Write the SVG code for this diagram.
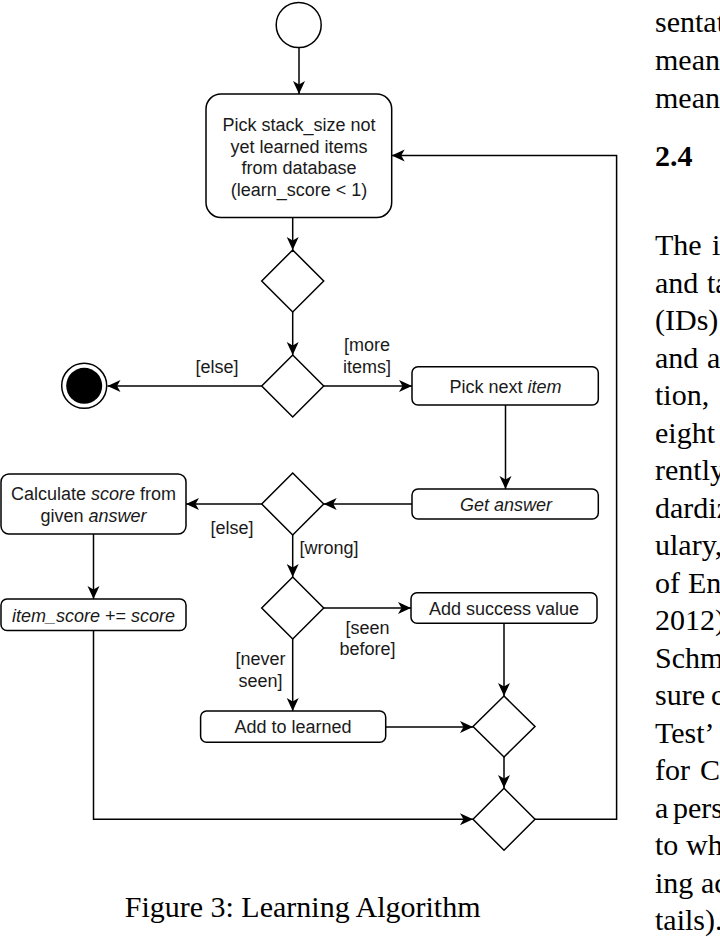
<svg xmlns="http://www.w3.org/2000/svg" width="720" height="937" viewBox="0 0 720 937">
<style>
.bx{fill:#fff;stroke:#000;stroke-width:1.5}
.dm{fill:#fff;stroke:#000;stroke-width:1.5}
.ln{fill:none;stroke:#000;stroke-width:1.5}
.t{font-family:"Liberation Sans",Arial,sans-serif;font-size:18px;fill:#1a1a1a;text-anchor:middle}
.i{font-style:italic}
.p{font-family:"Liberation Serif","Times New Roman",serif;font-size:30px;fill:#000}
.cap{font-family:"Liberation Serif","Times New Roman",serif;font-size:30px;fill:#000;text-anchor:middle}
</style>
<defs>
<marker id="ar" markerUnits="userSpaceOnUse" markerWidth="14" markerHeight="13" refX="13" refY="6" orient="auto">
<path d="M0,0 L13,6 L0,12 L3.5,6 Z" fill="#000"/>
</marker>
</defs>
<rect width="720" height="937" fill="#fff"/>

<g id="connectors">
<line class="ln" x1="299" y1="47.5" x2="299" y2="94" marker-end="url(#ar)"/>
<line class="ln" x1="292.7" y1="217.5" x2="292.7" y2="250" marker-end="url(#ar)"/>
<line class="ln" x1="292.7" y1="312" x2="292.7" y2="355" marker-end="url(#ar)"/>
<line class="ln" x1="261.7" y1="386" x2="107.5" y2="386" marker-end="url(#ar)"/>
<line class="ln" x1="323.7" y1="386" x2="412" y2="386" marker-end="url(#ar)"/>
<line class="ln" x1="505.5" y1="405" x2="505.5" y2="489" marker-end="url(#ar)"/>
<line class="ln" x1="412" y1="504" x2="323.7" y2="504" marker-end="url(#ar)"/>
<line class="ln" x1="261.7" y1="504" x2="186" y2="504" marker-end="url(#ar)"/>
<line class="ln" x1="292.7" y1="535" x2="292.7" y2="577" marker-end="url(#ar)"/>
<line class="ln" x1="323.7" y1="608" x2="411" y2="608" marker-end="url(#ar)"/>
<line class="ln" x1="292.7" y1="639" x2="292.7" y2="711" marker-end="url(#ar)"/>
<line class="ln" x1="93.5" y1="534" x2="93.5" y2="599" marker-end="url(#ar)"/>
<line class="ln" x1="504" y1="623.3" x2="504" y2="696" marker-end="url(#ar)"/>
<line class="ln" x1="385.7" y1="727" x2="473" y2="727" marker-end="url(#ar)"/>
<line class="ln" x1="504" y1="757" x2="504" y2="788" marker-end="url(#ar)"/>
<polyline class="ln" points="93.5,631 93.5,819.3 473,819.3" marker-end="url(#ar)"/>
<polyline class="ln" points="535,819.3 616.6,819.3 616.6,155.5 391.7,155.5" marker-end="url(#ar)"/>
</g>

<g id="start">
<circle cx="298.7" cy="25" r="22.5" fill="#fff" stroke="#000" stroke-width="1.5"/>
</g>

<g id="pick-stack">
<rect class="bx" x="206" y="94" width="185.7" height="123.5" rx="15" ry="15"/>
<text class="t" x="299" y="131">Pick stack_size not</text>
<text class="t" x="299" y="152.5">yet learned items</text>
<text class="t" x="299" y="174">from database</text>
<text class="t" x="299" y="195.5">(learn_score &lt; 1)</text>
</g>

<g id="decision1"><polygon class="dm" points="292.7,250 323.7,281 292.7,312 261.7,281"/></g>
<g id="decision2"><polygon class="dm" points="292.7,355 323.7,386 292.7,417 261.7,386"/></g>

<g id="end">
<circle cx="84.2" cy="385.8" r="22.5" fill="#fff" stroke="#000" stroke-width="1.5"/>
<circle cx="84.2" cy="385.8" r="18" fill="#000"/>
</g>

<g id="label-else-1"><text class="t" x="217" y="372.5">[else]</text></g>
<g id="label-more-items">
<text class="t" x="367" y="351">[more</text>
<text class="t" x="367" y="372.5">items]</text>
</g>

<g id="pick-next">
<rect class="bx" x="412" y="366.7" width="186.3" height="38.3" rx="6" ry="6"/>
<text class="t" x="505.5" y="392.5">Pick next <tspan class="i">item</tspan></text>
</g>

<g id="get-answer">
<rect class="bx" x="412" y="489" width="186.3" height="30" rx="6" ry="6"/>
<text class="t i" x="506" y="510.5">Get answer</text>
</g>

<g id="decision3"><polygon class="dm" points="292.7,473 323.7,504 292.7,535 261.7,504"/></g>

<g id="calculate">
<rect class="bx" x="1" y="474" width="185" height="60" rx="8" ry="8"/>
<text class="t" x="93.5" y="500">Calculate <tspan class="i">score</tspan> from</text>
<text class="t" x="93.5" y="521.5">given <tspan class="i">answer</tspan></text>
</g>

<g id="label-else-2"><text class="t" x="232" y="534">[else]</text></g>
<g id="label-wrong"><text class="t" x="329" y="554">[wrong]</text></g>

<g id="decision4"><polygon class="dm" points="292.7,577 323.7,608 292.7,639 261.7,608"/></g>

<g id="item-score">
<rect class="bx" x="1" y="599" width="185" height="31.5" rx="6" ry="6"/>
<text class="t" x="93.5" y="621.5"><tspan class="i">item_score</tspan> += <tspan class="i">score</tspan></text>
</g>

<g id="add-success">
<rect class="bx" x="411" y="592.7" width="186" height="30.6" rx="6" ry="6"/>
<text class="t" x="504" y="614.5">Add success value</text>
</g>

<g id="label-seen-before">
<text class="t" x="367.5" y="633.5">[seen</text>
<text class="t" x="367.5" y="655">before]</text>
</g>
<g id="label-never-seen">
<text class="t" x="260.5" y="665">[never</text>
<text class="t" x="260.5" y="686.5">seen]</text>
</g>

<g id="add-learned">
<rect class="bx" x="200.6" y="711" width="185.1" height="31.3" rx="6" ry="6"/>
<text class="t" x="293" y="733">Add to learned</text>
</g>

<g id="decision5"><polygon class="dm" points="504,696 535,726.5 504,757 473,726.5"/></g>
<g id="decision6"><polygon class="dm" points="504,788.3 535,819.3 504,850.3 473,819.3"/></g>

<text class="cap" x="302.6" y="916.5">Figure 3: Learning Algorithm</text>

<g id="body-text">
<text class="p" x="655" y="32">sentat</text>
<text class="p" x="655" y="70">mean</text>
<text class="p" x="655" y="107.5">mean</text>
<text class="p" x="655" y="166" font-weight="bold">2.4</text>
<text class="p" x="655" y="255">The <tspan x="712">i</tspan></text>
<text class="p" x="655" y="292.5">and <tspan x="707">ta</tspan></text>
<text class="p" x="655" y="330">(IDs)</text>
<text class="p" x="655" y="367.5">and <tspan x="707">a</tspan></text>
<text class="p" x="655" y="405">tion,</text>
<text class="p" x="655" y="442.5">eight</text>
<text class="p" x="655" y="480">rently</text>
<text class="p" x="655" y="517.5">dardiz</text>
<text class="p" x="655" y="555">ulary,</text>
<text class="p" x="655" y="592.5">of <tspan x="688">En</tspan></text>
<text class="p" x="655" y="630">2012)</text>
<text class="p" x="655" y="667.5">Schm</text>
<text class="p" x="655" y="705">sure <tspan x="711">c</tspan></text>
<text class="p" x="655" y="742.5">Test’</text>
<text class="p" x="655" y="780">for <tspan x="700">C</tspan></text>
<text class="p" x="655" y="817.5">a <tspan x="673">pers</tspan></text>
<text class="p" x="655" y="855">to <tspan x="686">wh</tspan></text>
<text class="p" x="655" y="892.5">ing <tspan x="701">ac</tspan></text>
<text class="p" x="655" y="930">tails).</text>
</g>
</svg>
